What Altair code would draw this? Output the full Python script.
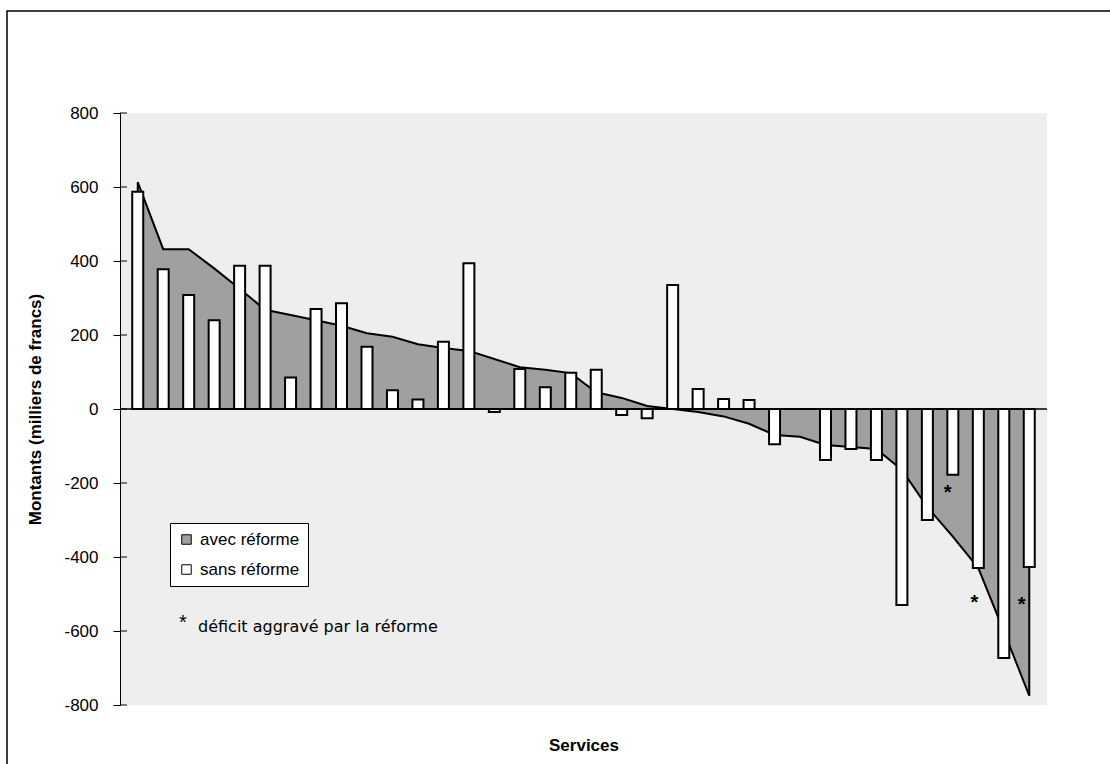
import altair as alt
import pandas as pd

# ---- data ----
services = list(range(1, 37))
avec_reforme = [613, 432, 432, 380, 325, 268, 254, 240, 225, 205,
                195, 175, 165, 157, 135, 113, 106, 97, 45, 30,
                8, 0, -8, -20, -40, -70, -75, -97, -103, -108,
                -165, -265, -345, -430, -600, -775]
sans_reforme = [587, 378, 308, 240, 387, 387, 85, 270, 286, 168,
                51, 26, 182, 394, -8, 108, 59, 98, 106, -16,
                -25, 335, 54, 27, 24, -95, 0, -138, -108, -138,
                -530, -300, -178, -430, -673, -427]
star_x = [31.8, 32.85, 34.7]
star_y = [-213, -511, -516]
y_ticks = [-800, -600, -400, -200, 0, 200, 400, 600, 800]
series = ["avec réforme", "sans réforme"]
note = ["déficit aggravé par la réforme"]

idx = list(range(len(services)))
area_df = pd.DataFrame({"i": idx, "service": services, "value": avec_reforme, "serie": series[0]})
bar_df = pd.DataFrame({"i": idx, "service": services, "value": sans_reforme, "serie": series[1]})
star_df = pd.DataFrame({"i": star_x, "value": star_y, "s": ["*"] * len(star_x)})
tick_df = pd.DataFrame({"t": y_ticks})
zero_df = pd.DataFrame({"z": [0]})
note_df = pd.DataFrame({"txt": note})
one_df = pd.DataFrame({"a": [1]})

FONT = "Liberation Sans"

xscale = alt.Scale(domain=[-0.5, 35.5], nice=False, zero=False)
yscale = alt.Scale(domain=[-800, 800], nice=False)
cscale = alt.Scale(domain=series, range=["#a0a0a0", "#ffffff"])

x_axis = alt.Axis(title="Services", labels=False, ticks=False, domain=False, grid=False,
                  titleFont=FONT, titleFontSize=17, titleFontWeight="bold", titleColor="black",
                  titleY=40, titleBaseline="middle")
y_axis = alt.Axis(values=y_ticks, title="Montants (milliers de francs)", grid=False,
                  tickSize=7, tickColor="black", tickWidth=1, domainColor="black", domainWidth=1,
                  labelPadding=15, labelFont=FONT, labelFontSize=17, labelColor="black",
                  labelExpr="'' + datum.value",
                  titleFont=FONT, titleFontSize=17, titleFontWeight="bold", titleColor="black",
                  titleX=-85, titleY=296, titleBaseline="middle")

X = lambda f: alt.X(f, scale=xscale, axis=x_axis)
Y = lambda f: alt.Y(f, scale=yscale, axis=y_axis)

legend = alt.Legend(title=None, orient="none", legendX=50, legendY=410,
                    strokeColor="black", fillColor="white", padding=8,
                    symbolType="square", symbolSize=90, symbolStrokeColor="black",
                    symbolStrokeWidth=1, labelFont=FONT, labelFontSize=17,
                    labelColor="black", rowPadding=12, labelOffset=5)

area = alt.Chart(area_df).mark_area(stroke="black", strokeWidth=2, interpolate="linear").encode(
    x=X("i:Q"), y=Y("value:Q"),
    color=alt.Color("serie:N", scale=cscale, legend=legend),
)

bars = alt.Chart(bar_df).mark_bar(stroke="black", strokeWidth=2, size=11).encode(
    x=X("i:Q"), y=Y("value:Q"),
    color=alt.Color("serie:N", scale=cscale, legend=legend),
)

zero = alt.Chart(zero_df).mark_rule(color="black", strokeWidth=1.5).encode(y=Y("z:Q"))

inner_ticks = alt.Chart(tick_df).mark_rule(color="black", strokeWidth=1).encode(
    y=Y("t:Q"), x=alt.value(0), x2=alt.value(7))

stars = alt.Chart(star_df).mark_text(fontSize=20, font=FONT, color="black", fontWeight="bold",
                                      baseline="alphabetic", dy=11).encode(
    x=X("i:Q"), y=Y("value:Q"), text="s:N")

note_star = alt.Chart(one_df).mark_text(fontSize=20, font=FONT, color="black",
                                         baseline="alphabetic", dy=11).encode(
    x=alt.value(63), y=alt.value(505), text=alt.value("*"))

note_text = alt.Chart(note_df).mark_text(fontSize=16, font="DejaVu Sans", color="black",
                                          align="left", baseline="middle").encode(
    x=alt.value(78), y=alt.value(514), text="txt:N")

border = alt.Chart(one_df).mark_rect(fillOpacity=0, stroke="black", strokeWidth=1.5).encode(
    x=alt.value(-113), x2=alt.value(1000), y=alt.value(-102), y2=alt.value(670))

chart = alt.layer(border, area, bars, zero, inner_ticks, stars, note_star, note_text).properties(
    width=927, height=592,
    autosize=alt.AutoSizeParams(type="none"),
    padding={"left": 120, "top": 113, "right": 63, "bottom": 59},
    background="white",
).configure_view(strokeWidth=0, fill="#eeeeee")

chart.save("out.html", embed_options={"renderer": "svg", "actions": False})
